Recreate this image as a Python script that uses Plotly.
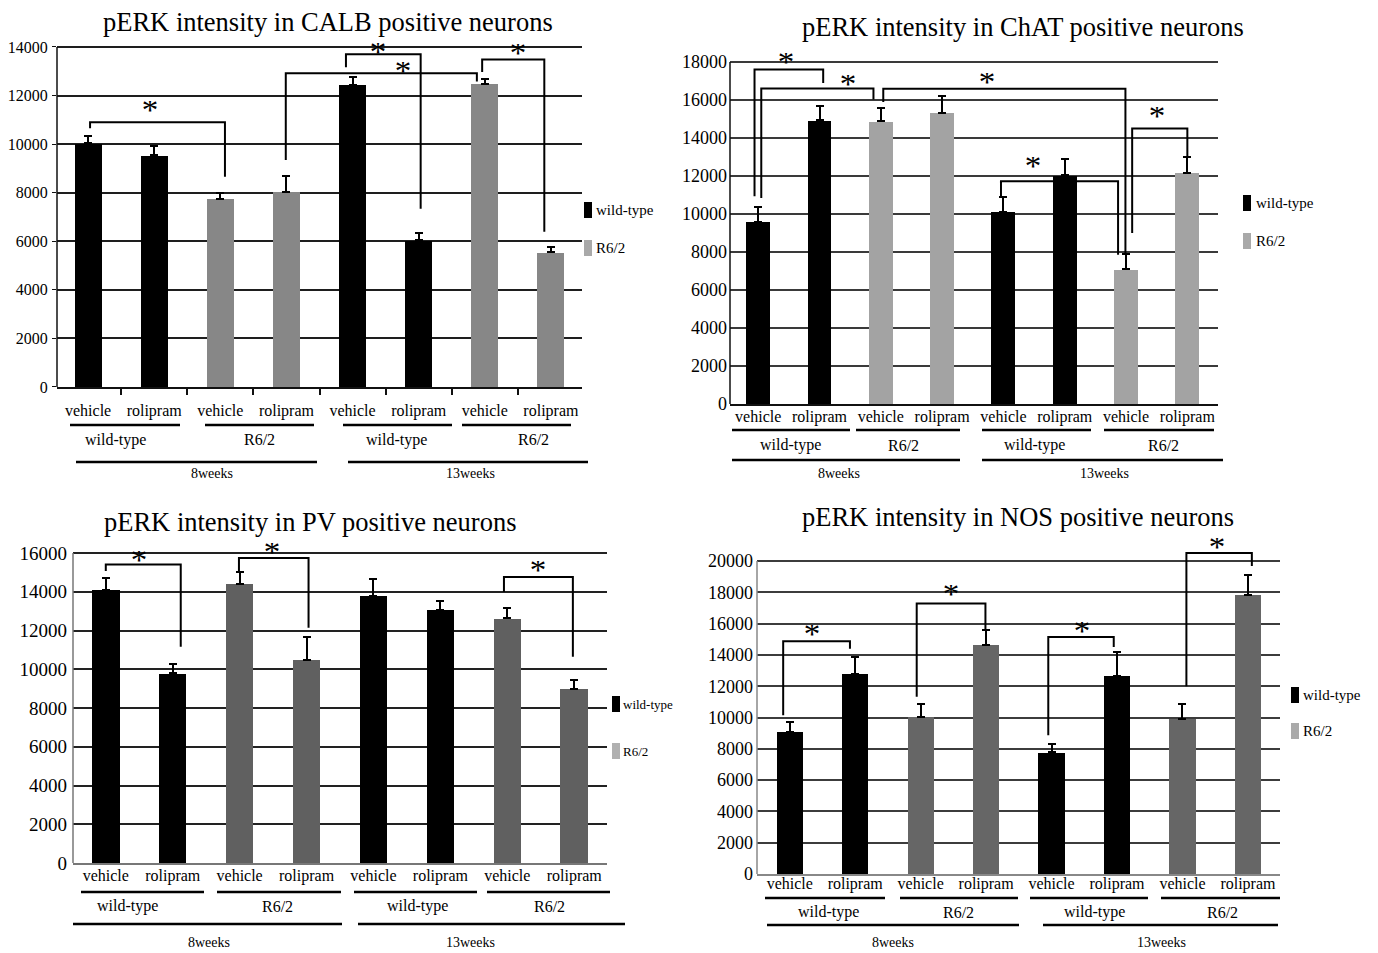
import plotly.graph_objects as go

W, H = 1378, 953
OFF = 8          # default page margin around the plot div
FW, FH = W - OFF, H - OFF
FONT = "Liberation Serif"

# ---------------- data ----------------
conditions = ["vehicle", "rolipram"] * 4
genotypes = ["wild-type", "wild-type", "R6/2", "R6/2"] * 2
group_labels = ["wild-type", "R6/2", "wild-type", "R6/2"]
age_labels = ["8weeks", "13weeks"]
series_names = ["wild-type", "R6/2"]

calb_mean = [10030, 9545, 7750, 8030, 12455, 6045, 12480, 5545]
calb_err = [315, 385, 220, 660, 305, 300, 210, 220]
chat_mean = [9580, 14940, 14870, 15330, 10120, 12040, 7100, 12180]
chat_err = [790, 770, 720, 860, 780, 880, 790, 810]
pv_mean = [14110, 9785, 14420, 10470, 13790, 13080, 12620, 8980]
pv_err = [620, 465, 580, 1170, 890, 430, 560, 460]
nos_mean = [9085, 12770, 10040, 14640, 7770, 12660, 9890, 17830]
nos_err = [635, 1100, 810, 930, 530, 1510, 960, 1260]

# significance brackets: (x_left, y_left, x_right, y_right, y_top, star_x, star_y)
calb_sig = [(0.03, 10650, 2.07, 8660, 10900, 0.94, 11520),
            (2.99, 9350, 5.88, 12580, 12920, 4.77, 13130),
            (3.90, 13170, 5.03, 7340, 13700, 4.38, 13930),
            (5.96, 12970, 6.90, 6390, 13490, 6.50, 13860)]
chat_sig = [(-0.06, 10930, 1.06, 16900, 17610, 0.46, 18140),
            (0.05, 10840, 1.88, 16030, 16610, 1.47, 17000),
            (2.04, 15890, 5.99, 7860, 16590, 3.74, 17080),
            (3.96, 10930, 5.87, 7860, 11720, 4.49, 12690),
            (6.10, 9000, 7.00, 13040, 14500, 6.50, 15330)]
pv_sig = [(0.00, 15070, 1.12, 11160, 15400, 0.49, 15790),
          (1.99, 15070, 3.03, 12140, 15740, 2.49, 16220),
          (5.95, 13990, 6.98, 10640, 14760, 6.46, 15280)]
nos_sig = [(-0.10, 10150, 0.92, 14400, 14870, 0.34, 15530),
           (1.94, 11320, 2.99, 15570, 17280, 2.47, 18090),
           (3.95, 8870, 4.95, 14510, 15150, 4.46, 15740),
           (6.06, 12000, 7.06, 19680, 20510, 6.53, 21100)]


def px(x):
    return (x - OFF) / FW


def py(y):
    return 1 - (y - OFF) / FH


panels = [
    dict(title="pERK intensity in CALB positive neurons", title_pos=(328, 22),
         mean=calb_mean, err=calb_err, sig=calb_sig,
         xdom=(57, 582), ypx=(387, 47), yrange=(0, 14000), xrange=(-0.47, 7.47),
         bw=0.41, gray="#878787", legend_gray="#a9a9a9",
         grid="#1e1e1e", gridw=2, axis="#111111", ytick=16, ystand=1, cat=16, standoff=8,
         yticks="outside", minor=True,
         under_y=425, under=[(70, 180), (205, 314), (343, 452), (462, 571)],
         glab_y=440, glab_x=[115, 260, 396, 533],
         long_y=462, long=[(76, 317), (348, 588)], age_y=474, age_x=[212, 470],
         leg=(584, 210, 248, 594), legfont=15),
    dict(title="pERK intensity in ChAT positive neurons", title_pos=(1023, 27),
         mean=chat_mean, err=chat_err, sig=chat_sig,
         xdom=(730, 1218), ypx=(404, 62), yrange=(0, 18000), xrange=(-0.46, 7.5),
         bw=0.39, gray="#a3a3a3", legend_gray="#a9a9a9",
         grid="#3a3a3a", gridw=1.6, axis="#111111", ytick=18, ystand=2, cat=16, standoff=-3,
         yticks="", minor=False,
         under_y=430, under=[(732, 850), (856, 960), (982, 1091), (1104, 1214)],
         glab_y=445, glab_x=[790, 903, 1034, 1163],
         long_y=460, long=[(732, 960), (982, 1223)], age_y=474, age_x=[839, 1104],
         leg=(1243, 203, 241, 1254), legfont=15),
    dict(title="pERK intensity in PV positive neurons", title_pos=(310, 522),
         mean=pv_mean, err=pv_err, sig=pv_sig,
         xdom=(73, 607), ypx=(863, 553), yrange=(0, 16000), xrange=(-0.49, 7.49),
         bw=0.41, gray="#606060", legend_gray="#b0b0b0",
         grid="#222222", gridw=1.8, axis="#777777", ytick=19, ystand=5, cat=16, standoff=-3,
         yticks="", minor=False,
         under_y=892, under=[(81, 204), (217, 341), (354, 477), (487, 610)],
         glab_y=906, glab_x=[127, 277, 417, 549],
         long_y=924, long=[(73, 342), (358, 625)], age_y=942, age_x=[209, 470],
         leg=(612, 704, 751, 621), legfont=13),
    dict(title="pERK intensity in NOS positive neurons", title_pos=(1018, 517),
         mean=nos_mean, err=nos_err, sig=nos_sig,
         xdom=(757, 1280), ypx=(874, 561), yrange=(0, 20000), xrange=(-0.5, 7.49),
         bw=0.40, gray="#666666", legend_gray="#aaaaaa",
         grid="#3c3c3c", gridw=1.5, axis="#888888", ytick=18, ystand=3, cat=16, standoff=-6,
         yticks="", minor=False,
         under_y=898, under=[(765, 885), (900, 1018), (1030, 1148), (1161, 1280)],
         glab_y=912, glab_x=[828, 958, 1094, 1222],
         long_y=925, long=[(767, 1019), (1043, 1278)], age_y=942, age_x=[893, 1161],
         leg=(1291, 695, 731, 1301), legfont=15),
]

fig = go.Figure()
shapes = []
annotations = []
layout_axes = {}

for i, p in enumerate(panels):
    sfx = "" if i == 0 else str(i + 1)
    xa, ya = "x" + sfx, "y" + sfx
    # extend range so that brackets and asterisks stay inside the subplot
    y0, y1 = p["yrange"]
    top_needed = max(max(max(s[4], s[6]) for s in p["sig"]) + 250, y1)
    per = (p["ypx"][0] - p["ypx"][1]) / (y1 - y0)
    top_px = p["ypx"][0] - (top_needed - y0) * per

    for name, color in zip(series_names, ["#000000", p["gray"]]):
        idx = [k for k, g in enumerate(genotypes) if g == name]
        fig.add_trace(go.Bar(
            x=idx, y=[p["mean"][k] for k in idx],
            width=p["bw"], marker=dict(color=color, line=dict(width=0)),
            error_y=dict(type="data", symmetric=False,
                         array=[p["err"][k] for k in idx],
                         arrayminus=[0] * len(idx),
                         color="#000000", thickness=2, width=4),
            name=name, showlegend=False, xaxis=xa, yaxis=ya))

    xkw = dict(domain=[px(p["xdom"][0]), px(p["xdom"][1])], range=list(p["xrange"]),
               anchor=ya, tickmode="array", tickvals=list(range(8)), ticktext=conditions,
               ticks="", showgrid=False, zeroline=False, showline=True,
               linecolor=p["axis"], linewidth=2, automargin=False,
               tickfont=dict(family=FONT, size=p["cat"], color="#000"),
               ticklabelstandoff=p["standoff"], fixedrange=True)
    if p["minor"]:
        xkw["minor"] = dict(tickmode="array", tickvals=[k + 0.5 for k in range(-1, 8)],
                            ticks="outside", ticklen=6, tickcolor="#111", tickwidth=1.5)
    ykw = dict(domain=[py(p["ypx"][0]), py(top_px)], range=[y0, top_needed],
               anchor=xa, tickmode="linear", tick0=0, dtick=2000, tickformat="d",
               showgrid=True, gridcolor=p["grid"], gridwidth=p["gridw"],
               zeroline=False, showline=False, automargin=False,
               ticks=p["yticks"], ticklen=4, tickcolor="#111",
               tickfont=dict(family=FONT, size=p["ytick"], color="#000"),
               ticklabelstandoff=p["ystand"], fixedrange=True)
    layout_axes["xaxis" + sfx] = xkw
    layout_axes["yaxis" + sfx] = ykw

    # vertical axis line from 0 to the top tick
    shapes.append(dict(type="line", xref=xa + " domain", yref=ya, x0=0, x1=0,
                       y0=y0, y1=y1, line=dict(color=p["axis"], width=1.5)))

    # significance brackets
    for (xl, yl, xr, yr, yt, sx, sy) in p["sig"]:
        shapes.append(dict(type="path", xref=xa, yref=ya,
                           path=f"M {xl},{yl} L {xl},{yt} L {xr},{yt} L {xr},{yr}",
                           line=dict(color="#000", width=2)))
        annotations.append(dict(x=sx, y=sy, xref=xa, yref=ya, text="*", showarrow=False,
                                font=dict(family=FONT, size=33, color="#000"),
                                width=18, height=18, valign="middle",
                                yanchor="middle", xanchor="center", yshift=-3))

    # title
    annotations.append(dict(x=px(p["title_pos"][0]), y=py(p["title_pos"][1]),
                            xref="paper", yref="paper", text=p["title"], showarrow=False,
                            font=dict(family=FONT, size=26.5, color="#000"),
                            xanchor="center", yanchor="middle"))
    # group underline + labels
    for (a, b), lx, lab in zip(p["under"], p["glab_x"], group_labels):
        shapes.append(dict(type="line", xref="paper", yref="paper",
                           x0=px(a), x1=px(b), y0=py(p["under_y"]), y1=py(p["under_y"]),
                           line=dict(color="#000", width=2.5)))
        annotations.append(dict(x=px(lx), y=py(p["glab_y"]), xref="paper", yref="paper",
                                text=lab, showarrow=False,
                                font=dict(family=FONT, size=16, color="#000"),
                                xanchor="center", yanchor="middle"))
    for (a, b), lx, lab in zip(p["long"], p["age_x"], age_labels):
        shapes.append(dict(type="line", xref="paper", yref="paper",
                           x0=px(a), x1=px(b), y0=py(p["long_y"]), y1=py(p["long_y"]),
                           line=dict(color="#000", width=2.5)))
        annotations.append(dict(x=px(lx), y=py(p["age_y"]), xref="paper", yref="paper",
                                text=lab, showarrow=False,
                                font=dict(family=FONT, size=14, color="#000"),
                                xanchor="center", yanchor="middle"))
    # legend
    lx0, ly_wt, ly_r6, tx = p["leg"]
    for ly, col, lab in [(ly_wt, "#000000", series_names[0]), (ly_r6, p["legend_gray"], series_names[1])]:
        shapes.append(dict(type="rect", xref="paper", yref="paper",
                           x0=px(lx0), x1=px(lx0 + 8), y0=py(ly - 8), y1=py(ly + 8),
                           fillcolor=col, line=dict(width=0)))
        annotations.append(dict(x=px(tx), y=py(ly), xref="paper", yref="paper",
                                text=lab, showarrow=False,
                                font=dict(family=FONT, size=p["legfont"], color="#000"),
                                xanchor="left", yanchor="middle"))

fig.update_layout(
    width=FW, height=FH, margin=dict(l=0, r=0, t=0, b=0, autoexpand=False),
    paper_bgcolor="white", plot_bgcolor="white",
    bargap=0, showlegend=False,
    shapes=shapes, annotations=annotations,
    font=dict(family=FONT, color="#000"),
    **layout_axes,
)

fig.write_html("out.html", config={"displayModeBar": False})
